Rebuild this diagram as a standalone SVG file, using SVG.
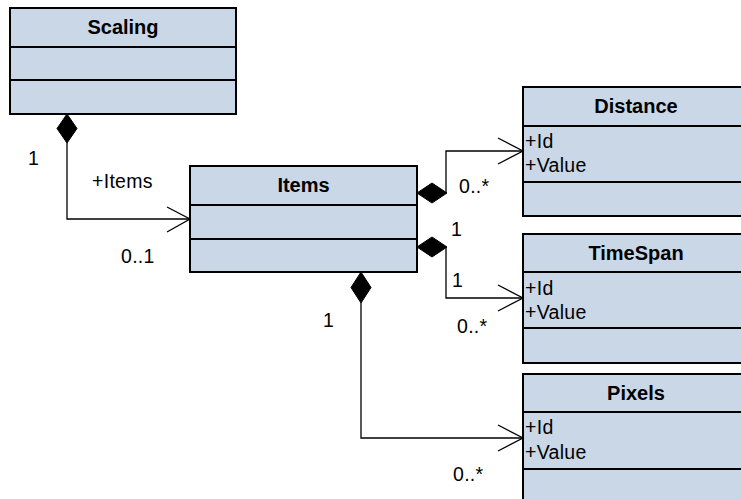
<svg xmlns="http://www.w3.org/2000/svg" width="741" height="499" viewBox="0 0 741 499">
  <style>
    .box { fill: #cad7e7; stroke: #000; stroke-width: 2; }
    .sep { stroke: #000; stroke-width: 2; }
    .title { font-family: "Liberation Sans", Arial, sans-serif; font-size: 20px; font-weight: bold; text-anchor: middle; fill: #000; }
    .attr, .lbl { font-family: "Liberation Sans", Arial, sans-serif; font-size: 19.5px; letter-spacing: 0.3px; fill: #000; }
    .line { fill: none; stroke: #000; stroke-width: 1.3; }
    .dia { fill: #000; stroke: #000; stroke-width: 1; }
  </style>
  <rect width="741" height="499" fill="#fff"/>

  <!-- class Scaling -->
  <g id="scaling">
    <rect class="box" x="10" y="8" width="226" height="106"/>
    <line class="sep" x1="10" y1="47" x2="236" y2="47"/>
    <line class="sep" x1="10" y1="80" x2="236" y2="80"/>
    <text class="title" x="123" y="34">Scaling</text>
  </g>

  <!-- class Items -->
  <g id="items">
    <rect class="box" x="190" y="166" width="227" height="106"/>
    <line class="sep" x1="190" y1="205" x2="417" y2="205"/>
    <line class="sep" x1="190" y1="239" x2="417" y2="239"/>
    <text class="title" x="303.5" y="192">Items</text>
  </g>

  <!-- class Distance -->
  <g id="distance">
    <rect class="box" x="523" y="87" width="226" height="129"/>
    <line class="sep" x1="523" y1="126" x2="749" y2="126"/>
    <line class="sep" x1="523" y1="182" x2="749" y2="182"/>
    <text class="title" x="636" y="113">Distance</text>
    <text class="attr" x="525" y="148">+Id</text>
    <text class="attr" x="525" y="172">+Value</text>
  </g>

  <!-- class TimeSpan -->
  <g id="timespan">
    <rect class="box" x="523" y="234" width="226" height="129"/>
    <line class="sep" x1="523" y1="272" x2="749" y2="272"/>
    <line class="sep" x1="523" y1="328" x2="749" y2="328"/>
    <text class="title" x="636" y="260">TimeSpan</text>
    <text class="attr" x="525" y="295">+Id</text>
    <text class="attr" x="525" y="319">+Value</text>
  </g>

  <!-- class Pixels -->
  <g id="pixels">
    <rect class="box" x="523" y="374" width="226" height="130"/>
    <line class="sep" x1="523" y1="412" x2="749" y2="412"/>
    <line class="sep" x1="523" y1="469" x2="749" y2="469"/>
    <text class="title" x="636" y="400">Pixels</text>
    <text class="attr" x="525" y="434">+Id</text>
    <text class="attr" x="525" y="459">+Value</text>
  </g>

  <!-- composition associations -->
  <g id="connectors">
    <!-- Scaling -> Items -->
    <polygon class="dia" points="67,114 77,128.5 67,143 57,128.5"/>
    <polyline class="line" points="67,143 67,219 190,219"/>
    <polyline class="line" points="167,207 190,219 167,232"/>
    <text class="lbl" x="28" y="165">1</text>
    <text class="lbl" x="92" y="188">+Items</text>
    <text class="lbl" x="121" y="263">0..1</text>

    <!-- Items -> Distance -->
    <polygon class="dia" points="417,193 432,183 447,193 432,203"/>
    <polyline class="line" points="446,193 446,151 523,151"/>
    <polyline class="line" points="498,138 523,151 498,164"/>
    <text class="lbl" x="459" y="193">0..*</text>

    <!-- Items -> TimeSpan -->
    <polygon class="dia" points="417,247 432,237 447,247 432,257"/>
    <polyline class="line" points="446,247 446,298 523,298"/>
    <polyline class="line" points="498,285 523,298 498,311"/>
    <text class="lbl" x="451" y="236">1</text>
    <text class="lbl" x="452" y="287">1</text>
    <text class="lbl" x="457" y="333">0..*</text>

    <!-- Items -> Pixels -->
    <polygon class="dia" points="361,272 371,287.5 361,303 351,287.5"/>
    <polyline class="line" points="361,303 361,438 523,438"/>
    <polyline class="line" points="498,425 523,438 498,451"/>
    <text class="lbl" x="323" y="327">1</text>
    <text class="lbl" x="453" y="481">0..*</text>
  </g>
</svg>
